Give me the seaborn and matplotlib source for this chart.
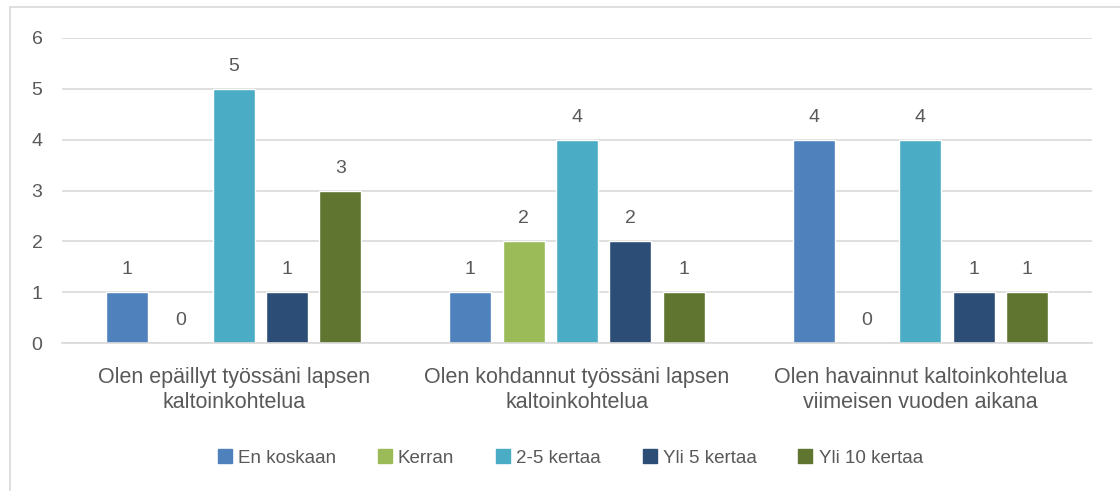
import pandas as pd
import matplotlib.pyplot as plt
import seaborn as sns
from matplotlib.lines import Line2D

# Data
groups = [
    "Olen epäillyt työssäni lapsen\nkaltoinkohtelua",
    "Olen kohdannut työssäni lapsen\nkaltoinkohtelua",
    "Olen havainnut kaltoinkohtelua\nviimeisen vuoden aikana",
]
series = ["En koskaan", "Kerran", "2-5 kertaa", "Yli 5 kertaa", "Yli 10 kertaa"]
en_koskaan = [1, 1, 4]
kerran = [0, 2, 0]
kertaa_2_5 = [5, 4, 4]
yli_5 = [1, 2, 1]
yli_10 = [3, 1, 1]
colors = ["#4F81BD", "#9BBB59", "#4BACC6", "#2C4D75", "#5F7530"]

values = [en_koskaan, kerran, kertaa_2_5, yli_5, yli_10]
rows = []
for s, vals in zip(series, values):
    for g, v in zip(groups, vals):
        rows.append({"group": g, "series": s, "value": v})
df = pd.DataFrame(rows)

sns.set_style("white")
plt.rcParams["font.family"] = ["Liberation Sans", "DejaVu Sans"]
text_color = "#595959"
grid_color = "#D9D9D9"

fig = plt.figure(figsize=(11.2, 4.91), dpi=100)
ax = fig.add_axes([62 / 1120, 1 - 343 / 491, (1092 - 62) / 1120, (343 - 38) / 491])

sns.barplot(data=df, x="group", y="value", hue="series", hue_order=series,
            order=groups, palette=colors, width=0.776, gap=0.21,
            legend=False, ax=ax, saturation=1)

for cont in ax.containers:
    ax.bar_label(cont, fmt="%g", padding=10, fontsize=14, color=text_color)

ax.set_ylim(0, 6)
ax.set_xlim(-0.5, 2.5)
ax.set_yticks(range(7))
ax.yaxis.grid(True, color=grid_color, linewidth=1.2)
ax.set_axisbelow(True)
for sp in ["top", "right", "left"]:
    ax.spines[sp].set_visible(False)
ax.spines["bottom"].set_color(grid_color)
ax.spines["bottom"].set_linewidth(1.2)
ax.tick_params(axis="y", length=0, pad=14, labelsize=14, labelcolor=text_color)
ax.tick_params(axis="x", length=0, pad=17, labelsize=15.5, labelcolor=text_color)
for lbl in ax.get_xticklabels():
    lbl.set_linespacing(1.3)
ax.set_xlabel("")
ax.set_ylabel("")

# legend
handles = [Line2D([0], [0], marker="s", linestyle="none", markersize=10,
                  markerfacecolor=c, markeredgecolor=c) for c in colors]
fig.legend(handles, series, loc="center", bbox_to_anchor=(0.509, 1 - 458 / 491),
           ncol=5, frameon=False, fontsize=13.5, labelcolor=text_color,
           handlelength=0.8, handletextpad=0.3, columnspacing=2.2)

# outer chart frame (left and top only visible)
fig.add_artist(Line2D([10 / 1120, 10 / 1120], [0, 1 - 7 / 491],
                      transform=fig.transFigure, color=grid_color, linewidth=1.2))
fig.add_artist(Line2D([10 / 1120, 1], [1 - 7 / 491, 1 - 7 / 491],
                      transform=fig.transFigure, color=grid_color, linewidth=1.2))

fig.savefig("out.png", dpi=100)
